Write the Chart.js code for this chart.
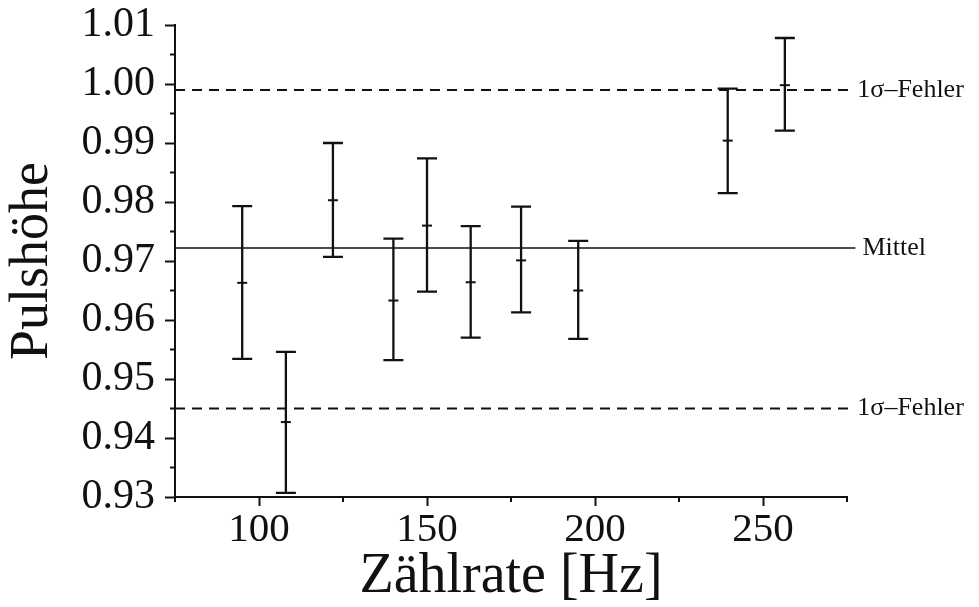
<!DOCTYPE html>
<html>
<head>
<meta charset="utf-8">
<title>Pulshöhe gegen Zählrate</title>
<script src="https://cdn.jsdelivr.net/npm/chart.js@4.4.1/dist/chart.umd.min.js"></script>
<style>
  html, body { margin:0; padding:0; background:#fff; }
  #wrap { width:979px; height:607px; }
</style>
</head>
<body>
<div id="wrap"><canvas id="c" width="979" height="607"></canvas></div>
<script>
// measured points: count rate [Hz], pulse height and its error bar ends
const rate  = [95, 108, 122, 140, 150, 163, 178, 195, 239.5, 256.5];
const puls  = [0.9663, 0.9427, 0.9803, 0.9633, 0.9760, 0.9664, 0.9701, 0.9650, 0.9904, 0.9998];
const upper = [0.9793, 0.9546, 0.9900, 0.9738, 0.9874, 0.9759, 0.9792, 0.9734, 0.9992, 1.0078];
const lower = [0.9534, 0.9307, 0.9707, 0.9532, 0.9648, 0.9570, 0.9613, 0.9568, 0.9815, 0.9921];

// reference lines
const mittel  = 0.9722;
const sigmaHi = 0.999;
const sigmaLo = 0.945;
const refLabels = ['Mittel', '1σ–Fehler', '1σ–Fehler'];

// axis ranges / ticks
const xMin = 75, xMax = 275, xStep = 25, xMajor = 50;
const yMin = 0.93, yMax = 1.01, yStep = 0.005;

const INK = '#111';
const SERIF = "'Liberation Serif', 'Times New Roman', serif";

const isMajorY = v => Math.round(v * 200) % 2 === 0;
const isMajorX = v => Math.round(v) % xMajor === 0;

const errorBars = {
  id: 'errorBars',
  afterDatasetsDraw(chart) {
    const { ctx, scales: { x, y } } = chart;
    ctx.save();
    ctx.strokeStyle = INK;
    ctx.lineWidth = 2.3;
    rate.forEach((r, i) => {
      const px = x.getPixelForValue(r);
      const top = y.getPixelForValue(upper[i]);
      const bot = y.getPixelForValue(lower[i]);
      ctx.beginPath();
      ctx.moveTo(px, top); ctx.lineTo(px, bot);
      ctx.moveTo(px - 10, top); ctx.lineTo(px + 10, top);
      ctx.moveTo(px - 10, bot); ctx.lineTo(px + 10, bot);
      ctx.stroke();
    });
    ctx.restore();
  }
};

// short minor ticks + labels at the right end of the reference lines
const extras = {
  id: 'extras',
  afterDraw(chart) {
    const { ctx, chartArea: a, scales: { x, y } } = chart;
    ctx.save();
    ctx.strokeStyle = INK;
    ctx.lineWidth = 2;
    ctx.beginPath();
    x.ticks.forEach(t => {
      if (isMajorX(t.value)) return;
      const px = x.getPixelForValue(t.value);
      ctx.moveTo(px, a.bottom); ctx.lineTo(px, a.bottom + 5);
    });
    y.ticks.forEach(t => {
      if (isMajorY(t.value)) return;
      const py = y.getPixelForValue(t.value);
      ctx.moveTo(a.left, py); ctx.lineTo(a.left - 5, py);
    });
    ctx.stroke();

    ctx.fillStyle = INK;
    ctx.font = `26px ${SERIF}`;
    ctx.textBaseline = 'middle';
    ctx.textAlign = 'left';
    [mittel, sigmaHi, sigmaLo].forEach((v, i) => {
      const end = chart.data.datasets[i + 1].data[1].x;
      ctx.fillText(refLabels[i], x.getPixelForValue(end) + 7, y.getPixelForValue(v));
    });
    ctx.restore();
  }
};

const refLine = (v, end, dash, w) => ({
  type: 'line',
  data: [{ x: xMin, y: v }, { x: end, y: v }],
  borderColor: INK, borderWidth: w, borderDash: dash,
  pointRadius: 0, clip: false, order: 2,
});

new Chart(document.getElementById('c'), {
  type: 'scatter',
  data: {
    datasets: [
      {
        data: rate.map((r, i) => ({ x: r, y: puls[i] })),
        pointStyle: 'line', pointRadius: 5, borderWidth: 2,
        borderColor: INK, backgroundColor: INK, order: 1,
      },
      refLine(mittel, 277.5, [], 1.7),
      refLine(sigmaHi, 276, [10, 7], 2),
      refLine(sigmaLo, 276, [10, 7], 2),
    ]
  },
  options: {
    responsive: false,
    animation: false,
    devicePixelRatio: 1,
    layout: { padding: { left: 0, top: 25, right: 132, bottom: 0 } },
    plugins: { legend: { display: false }, tooltip: { enabled: false } },
    scales: {
      x: {
        type: 'linear', min: xMin, max: xMax,
        afterFit: s => { s.height = 110; s.paddingLeft = 0; s.paddingRight = 0; },
        border: { color: INK, width: 2 },
        grid: {
          drawOnChartArea: false, tickLength: 9, tickWidth: 2,
          tickColor: c => isMajorX(c.tick.value) ? INK : 'rgba(0,0,0,0)',
        },
        ticks: {
          stepSize: xStep, autoSkip: false, maxRotation: 0, padding: 0,
          color: INK, font: { family: SERIF, size: 41 },
          callback: v => isMajorX(v) ? String(v) : '',
        },
        title: {
          display: true, text: 'Zählrate [Hz]', color: INK,
          font: { family: SERIF, size: 56, lineHeight: 1 },
          padding: { top: 0, bottom: 2 },
        },
      },
      y: {
        min: yMin, max: yMax,
        afterFit: s => { s.width = 175; s.paddingTop = 0; s.paddingBottom = 0; },
        border: { color: INK, width: 2 },
        grid: {
          drawOnChartArea: false, tickLength: 10, tickWidth: 2,
          tickColor: c => isMajorY(c.tick.value) ? INK : 'rgba(0,0,0,0)',
        },
        ticks: {
          stepSize: yStep, autoSkip: false, padding: 10,
          color: INK, font: { family: SERIF, size: 42 },
          callback: v => isMajorY(v) ? v.toFixed(2) : '',
        },
        title: {
          display: true, text: 'Pulshöhe', color: INK,
          font: { family: SERIF, size: 54, lineHeight: 1 },
          padding: { top: 6, bottom: 0 },
        },
      },
    },
  },
  plugins: [errorBars, extras],
});
</script>
</body>
</html>
